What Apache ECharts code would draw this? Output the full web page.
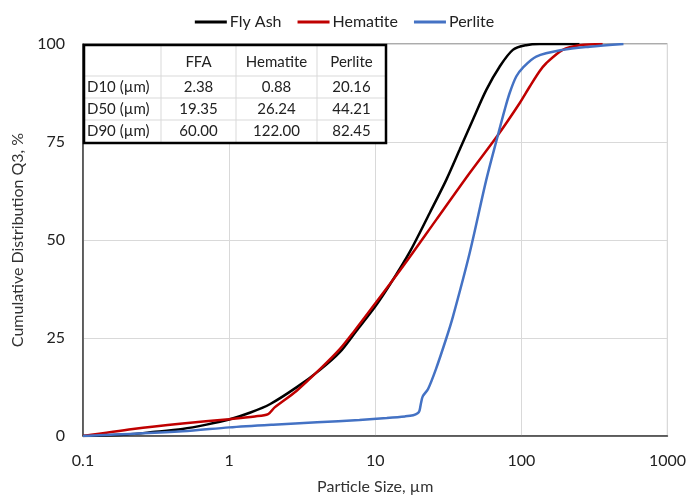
<!DOCTYPE html>
<html>
<head>
<meta charset="utf-8">
<script src="https://cdn.jsdelivr.net/npm/echarts@6/dist/echarts.min.js"></script>
<style>
html,body{margin:0;padding:0;background:#fff;}
#c{width:689px;height:500px;}
</style>
</head>
<body>
<div id="c"></div>
<script>
// ---- data ----
const seriesNames = ['Fly Ash', 'Hematite', 'Perlite'];
const flyAsh = [[0.1,0],[0.2,0.4],[0.3,1.0],[0.48,1.8],[0.7,2.9],[1,4.2],[1.4,6.0],[1.9,8.1],[2.89,12.4],[4.17,16.8],[5.7,21.3],[7.43,26.8],[10,33.0],[12.6,38.6],[17.2,46.9],[23.6,56.9],[30.7,65.4],[37.8,73.0],[46.6,80.7],[57.6,88.3],[71,94.2],[87.5,98.5],[108,99.7],[133,100],[250,100]];
const hematite = [[0.1,0],[0.22,1.8],[0.48,3.2],[1,4.3],[1.5,5.0],[1.85,5.6],[2.05,7.3],[2.89,11.5],[4.17,17.0],[5.7,22.1],[7.2,26.8],[9.2,32.0],[15.5,43.3],[26.2,55.2],[44.3,67.1],[69.2,76.8],[97.3,84.9],[114,89.1],[133,93.0],[148,95.1],[192,98.5],[250,99.7],[360,100]];
const perlite = [[0.1,0],[0.48,1.2],[1,2.2],[2,2.9],[4,3.5],[7.8,4.1],[12,4.6],[16,5.0],[18.2,5.3],[19.5,5.8],[20.1,6.5],[20.6,8.5],[21.2,10.2],[23,12.0],[26,17],[30.7,25.0],[34,30.4],[44.3,46.7],[57.6,65.4],[69.2,76.8],[76.9,83.2],[83.2,87.5],[92.3,91.7],[102.6,94.0],[126.5,96.8],[192,98.5],[293,99.3],[500,100]];
const xTicks = [0.1, 1, 10, 100, 1000];
const yTicks = [0, 25, 50, 75, 100];
const tableHeader = ['', 'FFA', 'Hematite', 'Perlite'];
const tableRowLabels = ['D10 (µm)', 'D50 (µm)', 'D90 (µm)'];
const tableFFA = ['2.38', '19.35', '60.00'];
const tableHematite = ['0.88', '26.24', '122.00'];
const tablePerlite = ['20.16', '44.21', '82.45'];

// ---- chart ----
const FONT = 'Lato, "Open Sans", sans-serif';
const colors = ['#000000', '#C00000', '#4472C4'];
const chart = echarts.init(document.getElementById('c'), null, {renderer: 'canvas'});

// table graphic
const colEdges = [84, 161, 236, 317, 386];
const rowEdges = [45, 76, 98, 120, 143];
const tableCols = [tableRowLabels, tableFFA, tableHematite, tablePerlite];
const g = [];
g.push({type: 'rect', shape: {x: colEdges[0], y: rowEdges[0], width: colEdges[4]-colEdges[0], height: rowEdges[4]-rowEdges[0]}, style: {fill: '#fff', stroke: null}, z: 100});
for (let i = 1; i < colEdges.length - 1; i++) {
  g.push({type: 'line', shape: {x1: colEdges[i], y1: rowEdges[0], x2: colEdges[i], y2: rowEdges[4]}, style: {stroke: '#d9d9d9', lineWidth: 1}, z: 101});
}
for (let j = 1; j < rowEdges.length - 1; j++) {
  g.push({type: 'line', shape: {x1: colEdges[0], y1: rowEdges[j], x2: colEdges[4], y2: rowEdges[j]}, style: {stroke: '#d9d9d9', lineWidth: 1}, z: 101});
}
g.push({type: 'rect', shape: {x: colEdges[0], y: rowEdges[0], width: colEdges[4]-colEdges[0], height: rowEdges[4]-rowEdges[0]}, style: {fill: null, stroke: '#000', lineWidth: 2.5}, z: 102});
for (let c = 1; c < tableHeader.length; c++) {
  g.push({type: 'text', x: (colEdges[c]+colEdges[c+1])/2, y: (rowEdges[0]+rowEdges[1])/2 + 2,
    style: {text: tableHeader[c], font: '15px ' + FONT, fill: '#222', align: 'center', verticalAlign: 'middle'}, z: 103});
}
for (let c = 0; c < tableCols.length; c++) {
  for (let r = 0; r < tableRowLabels.length; r++) {
    const isLabel = c === 0;
    g.push({type: 'text',
      x: isLabel ? colEdges[0] + 3 : (colEdges[c]+colEdges[c+1])/2,
      y: (rowEdges[r+1]+rowEdges[r+2])/2,
      style: {text: tableCols[c][r], font: '15px ' + FONT, fill: '#222', align: isLabel ? 'left' : 'center', verticalAlign: 'middle'}, z: 103});
  }
}

const option = {
  animation: false,
  backgroundColor: '#fff',
  color: colors,
  textStyle: {fontFamily: FONT},
  legend: {
    top: 9, left: 'center',
    icon: 'rect', itemWidth: 32, itemHeight: 3, itemGap: 16,
    textStyle: {fontSize: 16, color: '#222', fontFamily: FONT, padding: [0, 0, 0, -2]},
    data: seriesNames
  },
  grid: {left: 83, right: 21, top: 44, bottom: 63, show: true, borderColor: '#595959', borderWidth: 1},
  xAxis: {
    type: 'log', logBase: 10, min: xTicks[0], max: xTicks[xTicks.length-1],
    name: 'Particle Size, µm', nameLocation: 'middle', nameGap: 43,
    nameTextStyle: {fontSize: 16, color: '#333', fontFamily: FONT},
    axisLine: {show: true, lineStyle: {color: '#404040', width: 1.5}},
    axisTick: {show: false},
    axisLabel: {fontSize: 16, color: '#222', margin: 17, fontFamily: FONT, formatter: v => String(+v.toPrecision(6))},
    splitLine: {show: true, lineStyle: {color: '#d9d9d9', width: 1}},
    minorTick: {show: false}
  },
  yAxis: {
    type: 'value', min: yTicks[0], max: yTicks[yTicks.length-1], interval: 25,
    name: 'Cumulative Distribution Q3, %', nameLocation: 'middle', nameGap: 51, nameRotate: 90,
    nameTextStyle: {fontSize: 16, color: '#333', fontFamily: FONT},
    axisLine: {show: true, lineStyle: {color: '#404040', width: 1.5}},
    axisTick: {show: false},
    axisLabel: {fontSize: 16, color: '#222', margin: 18, fontFamily: FONT},
    splitLine: {show: true, lineStyle: {color: '#d9d9d9', width: 1}}
  },
  series: [
    {name: seriesNames[0], type: 'line', data: flyAsh, showSymbol: false, symbol: 'none', smooth: 0.3, lineStyle: {width: 2.5, color: colors[0]}, z: 3},
    {name: seriesNames[1], type: 'line', data: hematite, showSymbol: false, symbol: 'none', smooth: 0.3, lineStyle: {width: 2.5, color: colors[1]}, z: 4},
    {name: seriesNames[2], type: 'line', data: perlite, showSymbol: false, symbol: 'none', smooth: 0.3, lineStyle: {width: 2.5, color: colors[2]}, z: 5}
  ],
  graphic: {elements: g}
};
chart.setOption(option);
</script>
</body>
</html>
